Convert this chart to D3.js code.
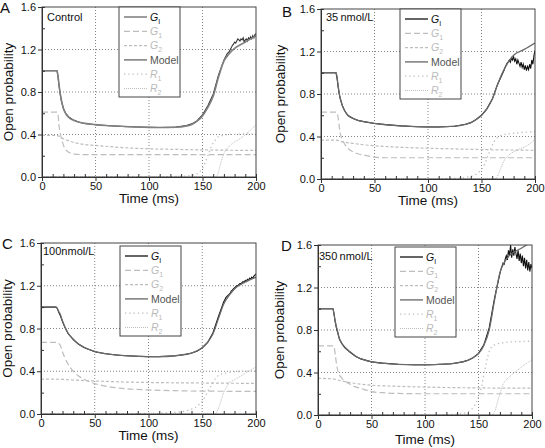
<!DOCTYPE html>
<html><head><meta charset="utf-8">
<script src="https://cdn.jsdelivr.net/npm/d3@7"></script>
<style>
body{margin:0;background:#fff}
svg{display:block;font-family:"Liberation Sans",Arial,Helvetica,sans-serif}
</style>
</head><body>
<svg id="chart" width="545" height="448"></svg>
<script>
// ---------------- DATA ----------------
const panelLetters = ["A","B","C","D"];
const panelLabels = ["Control","35\u2009nmol/L","100nmol/L","350\u2009nmol/L"];
const xTicks = [0,50,100,150,200];
const yTicks = [0,0.4,0.8,1.2,1.6];
const yTickLabels = ["0.0","0.4","0.8","1.2","1.6"];
const xTitle = "Time (ms)";
const yTitle = "Open probability";

const tModel = [0,14,15,16,17,18,20,22,25,30,35,40,50,60,75,90,100,110,125,135,140,145,150,155,160,165,170,175,180,190,200];
const modelA = [1,1,0.95,0.86,0.79,0.73,0.645,0.6,0.56,0.532,0.515,0.505,0.493,0.485,0.477,0.47,0.467,0.466,0.468,0.48,0.495,0.525,0.575,0.655,0.76,0.94,1.09,1.16,1.21,1.27,1.33];
const modelB = [1,1,0.96,0.88,0.81,0.76,0.69,0.645,0.6,0.57,0.55,0.54,0.523,0.512,0.5,0.492,0.49,0.49,0.497,0.515,0.53,0.56,0.6,0.66,0.75,0.89,1.01,1.1,1.165,1.22,1.28];
const modelC = [1,1,0.99,0.97,0.95,0.93,0.87,0.82,0.76,0.7,0.655,0.625,0.585,0.565,0.548,0.54,0.537,0.537,0.545,0.56,0.57,0.59,0.62,0.67,0.75,0.89,1.03,1.11,1.17,1.235,1.28];
const modelD = [1,1,0.95,0.89,0.84,0.8,0.72,0.68,0.64,0.595,0.555,0.53,0.5,0.488,0.477,0.473,0.473,0.475,0.483,0.5,0.515,0.54,0.577,0.655,0.8,1.08,1.34,1.45,1.51,1.57,1.63];

const tData = [0,14,15,16,17,18,20,22,25,30,35,40,50,60,75,90,100,110,125,135,140,145,150,155,160,165,170,
  171,172,173,174,175,176,177,178,179,180,181,182,183,184,185,186,187,188,189,190,191,192,193,194,195,196,197,198,199,200];
const dataA = [1,1,0.94,0.85,0.78,0.72,0.645,0.6,0.565,0.533,0.515,0.504,0.492,0.484,0.476,0.47,0.467,0.466,0.47,0.485,0.5,0.53,0.585,0.67,0.78,0.96,1.1,
  1.12,1.14,1.16,1.17,1.18,1.2,1.22,1.24,1.25,1.27,1.26,1.28,1.3,1.29,1.28,1.3,1.29,1.31,1.27,1.29,1.3,1.28,1.31,1.3,1.32,1.3,1.33,1.31,1.34,1.35];
const dataB = [1,1,0.95,0.87,0.8,0.755,0.69,0.645,0.6,0.57,0.55,0.54,0.523,0.512,0.5,0.492,0.49,0.49,0.497,0.515,0.53,0.56,0.6,0.66,0.75,0.89,1.0,
  1.02,1.05,1.07,1.09,1.1,1.12,1.1,1.14,1.12,1.15,1.11,1.13,1.08,1.12,1.09,1.06,1.1,1.05,1.08,1.03,1.07,1.02,1.06,1.03,1.08,1.04,1.12,1.08,1.16,1.21];
const dataC = [1,1,0.99,0.965,0.94,0.92,0.865,0.815,0.755,0.695,0.652,0.622,0.583,0.563,0.547,0.54,0.537,0.537,0.545,0.558,0.57,0.588,0.62,0.67,0.76,0.91,1.05,
  1.07,1.09,1.1,1.11,1.12,1.13,1.15,1.16,1.17,1.18,1.19,1.2,1.2,1.21,1.22,1.22,1.23,1.24,1.23,1.25,1.24,1.26,1.25,1.27,1.26,1.28,1.27,1.29,1.3,1.31];
const dataD = [1,1,0.95,0.88,0.83,0.79,0.715,0.675,0.635,0.59,0.553,0.528,0.5,0.488,0.477,0.473,0.473,0.475,0.483,0.5,0.515,0.54,0.58,0.66,0.82,1.1,1.33,
  1.37,1.4,1.43,1.42,1.47,1.5,1.46,1.55,1.5,1.6,1.48,1.56,1.5,1.58,1.52,1.47,1.55,1.45,1.52,1.43,1.5,1.4,1.48,1.38,1.46,1.36,1.44,1.35,1.42,1.38];

const tG1 = [0,14,15,16,17,18,20,22,25,30,35,40,50,60,75,100,125,150,200];
const g1A = [0.61,0.61,0.58,0.48,0.41,0.37,0.3,0.26,0.232,0.216,0.212,0.21,0.21,0.21,0.21,0.21,0.21,0.21,0.21];
const g1B = [0.63,0.63,0.62,0.58,0.5,0.43,0.37,0.33,0.29,0.255,0.235,0.225,0.205,0.2,0.2,0.2,0.2,0.2,0.2];
const g1C = [0.67,0.67,0.67,0.665,0.655,0.64,0.58,0.53,0.47,0.4,0.355,0.325,0.285,0.26,0.24,0.225,0.218,0.214,0.212];
const g1D = [0.65,0.65,0.64,0.58,0.5,0.44,0.38,0.35,0.32,0.29,0.265,0.25,0.22,0.21,0.203,0.2,0.2,0.2,0.2];

const tG2 = [0,14,20,30,40,50,75,100,125,150,175,200];
const g2A = [0.393,0.39,0.36,0.325,0.305,0.297,0.277,0.265,0.26,0.255,0.252,0.25];
const g2B = [0.367,0.365,0.35,0.335,0.322,0.313,0.298,0.29,0.283,0.277,0.273,0.27];
const g2C = [0.327,0.326,0.324,0.318,0.313,0.309,0.3,0.295,0.292,0.29,0.288,0.287];
const g2D = [0.345,0.34,0.325,0.305,0.29,0.28,0.27,0.263,0.258,0.255,0.253,0.252];

const tR1 = [0,100,125,135,140,145,148,150,153,155,158,160,163,165,170,175,180,190,200];
const r1A = [0,0,0.005,0.01,0.015,0.03,0.055,0.08,0.15,0.2,0.28,0.32,0.36,0.38,0.395,0.4,0.402,0.405,0.405];
const r1B = [0,0,0.005,0.015,0.025,0.045,0.07,0.09,0.14,0.19,0.27,0.32,0.37,0.39,0.415,0.425,0.43,0.44,0.445];
const r1C = [0,0.005,0.015,0.03,0.045,0.07,0.1,0.12,0.17,0.21,0.26,0.3,0.34,0.36,0.38,0.39,0.395,0.4,0.405];
const r1D = [0,0,0.005,0.015,0.03,0.07,0.12,0.17,0.27,0.38,0.52,0.6,0.645,0.66,0.675,0.682,0.688,0.692,0.695];

const tR2 = [0,162,164,166,168,170,173,175,180,185,190,200];
const r2A = [0,0,0.02,0.09,0.16,0.22,0.27,0.29,0.33,0.36,0.4,0.49];
const r2B = [0,0,0.01,0.05,0.1,0.15,0.2,0.22,0.255,0.28,0.3,0.37];
const r2C = [0,0,0.03,0.08,0.14,0.2,0.26,0.29,0.32,0.35,0.38,0.44];
const r2D = [0,0,0.01,0.06,0.13,0.2,0.29,0.32,0.37,0.41,0.45,0.52];

const legendNames = [["G","I"],["G","1"],["G","2"],["Model",""],["R","1"],["R","2"]];

// ---------------- LAYOUT / STYLE ----------------
const layout = [
  {l:42,r:256,t:7,b:177, letter:[0,13], label:[47,20.5], yt:12.5, xt:203, leg:[119,7]},
  {l:321,r:535,t:9,b:179, letter:[282,17], label:[326,20.5], yt:285, xt:205, leg:[400,9]},
  {l:41,r:256,t:243,b:414, letter:[2,249], label:[43,255], yt:12, xt:440, leg:[120,246]},
  {l:318,r:532,t:245,b:415, letter:[281,251], label:[319,260], yt:284, xt:443.5, leg:[395,247]}
];
const models = [modelA,modelB,modelC,modelD];
const datas = [dataA,dataB,dataC,dataD];
const g1s = [g1A,g1B,g1C,g1D], g2s = [g2A,g2B,g2C,g2D], r1s=[r1A,r1B,r1C,r1D], r2s=[r2A,r2B,r2C,r2D];
const light = "#bdbdbd";
const styles = {
  g1:{stroke:light, w:1.2, dash:"6,3"},
  g2:{stroke:light, w:1.2, dash:"3,2"},
  r1:{stroke:light, w:1.3, dash:"1.3,3"},
  r2:{stroke:light, w:1, dash:"1,1"},
  model:{stroke:"#7a7a7a", w:1.8, dash:null}
};

const svg = d3.select("#chart");
const defs = svg.append("defs");

layout.forEach((L, i) => {
  const x = d3.scaleLinear().domain([0,200]).range([L.l, L.r]);
  const y = d3.scaleLinear().domain([0,1.6]).range([L.b, L.t]);
  const g = svg.append("g");
  defs.append("clipPath").attr("id","clip"+i).append("rect")
    .attr("x",L.l).attr("y",L.t).attr("width",L.r-L.l).attr("height",L.b-L.t);

  // grid
  [0.4,0.8,1.2].forEach(v => g.append("line").attr("x1",L.l).attr("x2",L.r)
    .attr("y1",y(v)).attr("y2",y(v)).attr("stroke","#666").attr("stroke-width",0.8).attr("stroke-dasharray","1,2"));
  [50,100,150].forEach(v => g.append("line").attr("y1",L.t).attr("y2",L.b)
    .attr("x1",x(v)).attr("x2",x(v)).attr("stroke","#666").attr("stroke-width",0.8).attr("stroke-dasharray","1,2"));

  const plot = g.append("g").attr("clip-path","url(#clip"+i+")");
  const line = (ts, vs) => d3.line().x((d,k)=>x(ts[k])).y(d=>y(d)).curve(d3.curveMonotoneX)(vs);
  const drawSeries = (ts, vs, st, color) => plot.append("path").attr("d", line(ts, vs))
    .attr("fill","none").attr("stroke", color || st.stroke).attr("stroke-width", st.w)
    .attr("stroke-dasharray", st.dash);

  drawSeries(tR2, r2s[i], styles.r2);
  drawSeries(tR1, r1s[i], styles.r1);
  drawSeries(tG2, g2s[i], styles.g2);
  drawSeries(tG1, g1s[i], styles.g1);
  plot.append("path").attr("d", d3.line().x((d,k)=>x(tData[k])).y(d=>y(d))(datas[i]))
    .attr("fill","none").attr("stroke", i===0 ? "#333" : "#111").attr("stroke-width",1.1);
  drawSeries(tModel, models[i], {...styles.model, w: i===0 ? 1.6 : 1.3}, i===0 ? "#808080" : "#6a6a6a");

  // frame
  g.append("rect").attr("x",L.l).attr("y",L.t).attr("width",L.r-L.l).attr("height",L.b-L.t)
    .attr("fill","none").attr("stroke","#444").attr("stroke-width",1);

  // axes
  const ax = g.append("g").attr("transform",`translate(0,${L.b})`)
    .call(d3.axisBottom(x).tickValues(xTicks).tickSize(4).tickPadding(1.5).tickFormat(d3.format("d")));
  const axm = g.append("g").attr("transform",`translate(0,${L.b})`)
    .call(d3.axisBottom(x).tickValues(d3.range(10,200,10).filter(v=>v%50)).tickSize(-3).tickFormat(""));
  const ay = g.append("g").attr("transform",`translate(${L.l},0)`)
    .call(d3.axisLeft(y).tickValues(yTicks).tickSize(4).tickPadding(2).tickFormat((d,k)=>yTickLabels[k]));
  const aym = g.append("g").attr("transform",`translate(${L.l},0)`)
    .call(d3.axisLeft(y).tickValues([0.2,0.6,1.0,1.4]).tickSize(-3).tickFormat(""));
  [ax,axm,ay,aym].forEach(a => {
    a.select(".domain").attr("stroke","#333");
    a.selectAll(".tick line").attr("stroke","#333");
    a.selectAll("text").attr("font-size",11).attr("fill","#111")
      .attr("font-family",'"Liberation Sans",Arial,sans-serif');
  });

  // titles
  g.append("text").attr("x",(L.l+L.r)/2).attr("y",L.xt).attr("text-anchor","middle")
    .attr("font-size",13.5).attr("fill","#111").text(xTitle);
  g.append("text").attr("transform",`translate(${L.yt},${(L.t+L.b)/2}) rotate(-90)`)
    .attr("text-anchor","middle").attr("font-size",13.5).attr("fill","#111").text(yTitle);
  g.append("text").attr("x",L.letter[0]).attr("y",L.letter[1]).attr("font-size",15)
    .attr("fill","#111").text(panelLetters[i]);
  g.append("text").attr("x",L.label[0]).attr("y",L.label[1]).attr("font-size",11)
    .attr("fill","#111").text(panelLabels[i]);

  // legend
  const lg = g.append("g").attr("transform",`translate(${L.leg[0]},${L.leg[1]})`);
  lg.append("rect").attr("width",61).attr("height",90).attr("fill","#fff")
    .attr("stroke","#444").attr("stroke-width",1);
  const legStyles = [
    {stroke: i===0 ? "#666" : "#111", w:1.3, dash:null, txt:"#111"},
    {...styles.g1, txt:"#bbb"},
    {...styles.g2, txt:"#bbb"},
    {...styles.model, w:1.5, txt:"#555"},
    {...styles.r1, txt:"#bbb"},
    {...styles.r2, txt:"#bbb"}
  ];
  legendNames.forEach((nm, k) => {
    const yy = 10 + k*14.3;
    const s = legStyles[k];
    lg.append("line").attr("x1",5).attr("x2",28).attr("y1",yy).attr("y2",yy)
      .attr("stroke",s.stroke).attr("stroke-width",s.w).attr("stroke-dasharray",s.dash);
    const tx = lg.append("text").attr("x",31).attr("y",yy+3.6).attr("font-size",10.5).attr("fill",s.txt);
    if (nm[1]) {
      tx.append("tspan").attr("font-style","italic").text(nm[0]);
      tx.append("tspan").attr("font-size",7).attr("dy",3).text(nm[1]);
    } else {
      tx.text(nm[0]);
    }
  });
});
</script>
</body></html>
